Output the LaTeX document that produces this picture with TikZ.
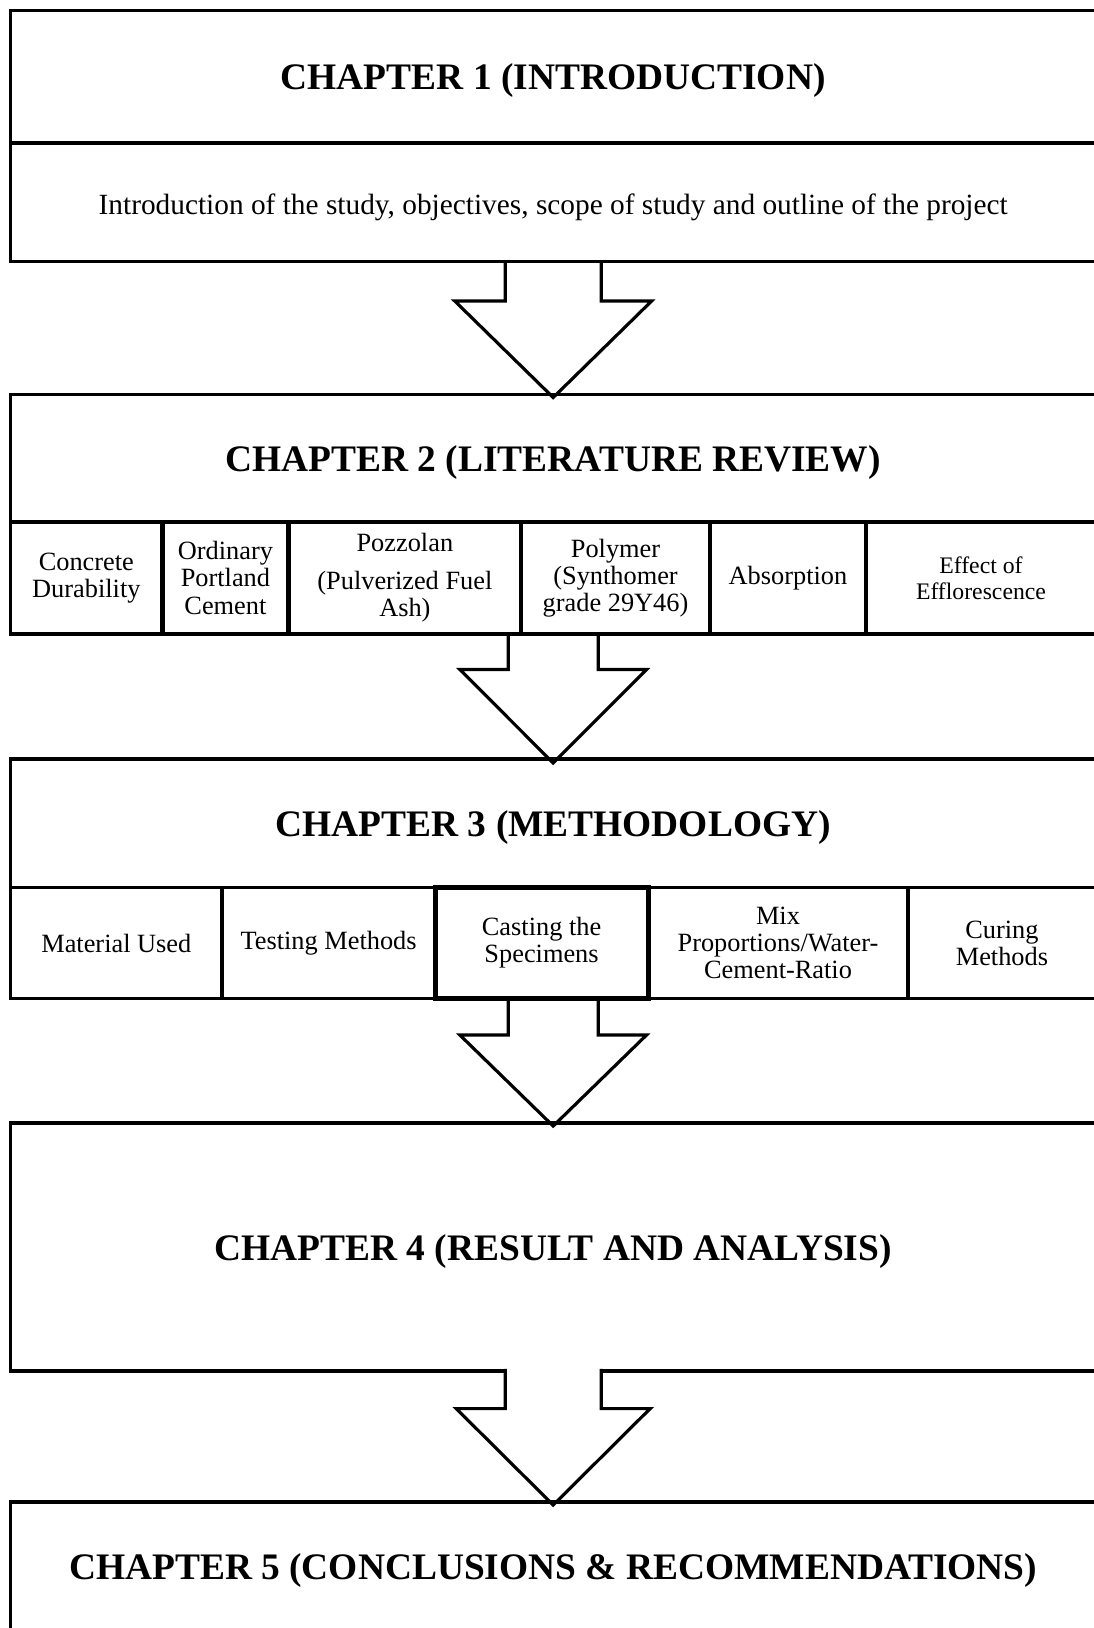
\documentclass[tikz,border=0pt]{standalone}
\usepackage{fontspec}
\setmainfont{Liberation Serif}
\usepackage{tikz}
\usetikzlibrary{positioning,calc}

\begin{document}
\begin{tikzpicture}[
    x=0.02cm, y=-0.02cm,
    font=\fontsize{15}{15.4}\selectfont,
    box/.style={rectangle, draw, line width=2pt, minimum width=21.71cm, align=center, inner sep=0pt, outer sep=0pt},
    title/.style={font=\fontsize{21.3}{24}\selectfont\bfseries, text height=19.5pt, text depth=4.6pt},
    cell/.style={rectangle, draw, line width=2pt, align=center, inner sep=2pt, outer sep=0pt},
    keycell/.style={cell, line width=2.8pt},
    blockarrow/.style={draw, line width=1.8pt, line join=miter}
]
    \useasboundingbox (0,0) rectangle (1094,1628);
    \clip (0,0) rectangle (1094,1628);

    % --- Chapter 1 ---
    \node[box, title, minimum height=2.652cm] (ch1) at (553.2,76.7) {CHAPTER 1 (INTRODUCTION)};
    \node[box, minimum height=2.372cm, below=0pt of ch1, font=\fontsize{16.7}{18}\selectfont, text height=17.4pt, text depth=3.6pt] (intro) {Introduction of the study, objectives, scope of study and outline of the project};

    % --- Chapter 2 ---
    \node[box, title, minimum height=2.55cm] (ch2) at (553.2,458.25) {CHAPTER 2 (LITERATURE REVIEW)};

    % Sub topics
    \node[cell, minimum width=3.032cm, minimum height=2.24cm, anchor=north west] (lit1) at (ch2.south west) {Concrete\\Durability};
    \node[keycell, minimum width=2.532cm, minimum height=2.24cm, right=0pt of lit1] (lit2) {Ordinary\\Portland\\Cement};
    \node[cell, minimum width=4.648cm, minimum height=2.24cm, right=0pt of lit2] (lit3) {Pozzolan\\[6pt](Pulverized Fuel\\Ash)};
    \node[cell, minimum width=3.78cm, minimum height=2.24cm, right=0pt of lit3] (lit4) {Polymer\\(Synthomer\\grade 29Y46)};
    \node[cell, minimum width=3.12cm, minimum height=2.24cm, right=0pt of lit4] (lit5) {Absorption};
    \node[cell, minimum width=4.6cm, minimum height=2.24cm, right=0pt of lit5, font=\fontsize{13.5}{14.7}\selectfont] (lit6) {Effect of\\Efflorescence};

    % --- Chapter 3 ---
    \node[box, title, minimum height=2.57cm] (ch3) at (553.2,823.25) {CHAPTER 3 (METHODOLOGY)};

    % Sub topics
    \node[cell, minimum width=4.232cm, minimum height=2.222cm, anchor=north west] (met1) at (ch3.south west) {Material Used};
    \node[cell, minimum width=4.26cm, minimum height=2.222cm, right=0pt of met1] (met2) {Testing Methods};
    \node[keycell, minimum width=4.26cm, minimum height=2.222cm, right=0pt of met2] (met3) {Casting the\\Specimens};
    \node[cell, minimum width=5.2cm, minimum height=2.222cm, right=0pt of met3] (met4) {Mix\\Proportions/Water-\\Cement-Ratio};
    \node[cell, minimum width=3.76cm, minimum height=2.222cm, right=0pt of met4] (met5) {Curing\\Methods};

    % --- Chapter 4 ---
    \node[box, title, minimum height=4.96cm] (ch4) at (553.2,1247) {CHAPTER 4 (RESULT AND ANALYSIS)};

    % --- Chapter 5 ---
    \node[box, title, minimum height=2.58cm] (ch5) at (553.2,1566.5) {CHAPTER 5 (CONCLUSIONS \& RECOMMENDATIONS)};

    % Block arrows
    \coordinate (a1) at (intro.south);
    \coordinate (a2) at (ch2.south |- lit1.south);
    \coordinate (a3) at (ch3.south |- met1.south);
    \coordinate (a4) at (ch4.south);

    \draw[blockarrow] ($(a1)+(-48,0)$) -- ++(0,39.4) -- ++(-50.5,0) -- ($(ch2.north)+(0,3)$) -- ($(a1)+(98.5,39.4)$) -- ++(-50.5,0) -- ($(a1)+(48,0)$);
    \draw[blockarrow] ($(a2)+(-45,0)$) -- ++(0,35.5) -- ++(-48.4,0) -- ($(ch3.north)+(0,4)$) -- ($(a2)+(93.4,35.5)$) -- ++(-48.4,0) -- ($(a2)+(45,0)$);
    \draw[blockarrow] ($(a3)+(-45,0)$) -- ++(0,36.4) -- ++(-48.4,0) -- ($(ch4.north)+(0,3)$) -- ($(a3)+(93.4,36.4)$) -- ++(-48.4,0) -- ($(a3)+(45,0)$);

    % gap in the border of chapter 4
    \fill[white] ($(a4)+(-47,-3)$) rectangle ($(a4)+(47,3)$);
    \draw[blockarrow] ($(a4)+(-48,-2)$) -- ++(0,39.6) -- ++(-49,0) -- ($(ch5.north)+(0,3)$) -- ($(a4)+(97,37.6)$) -- ++(-49,0) -- ($(a4)+(48,-2)$);

\end{tikzpicture}
\end{document}
